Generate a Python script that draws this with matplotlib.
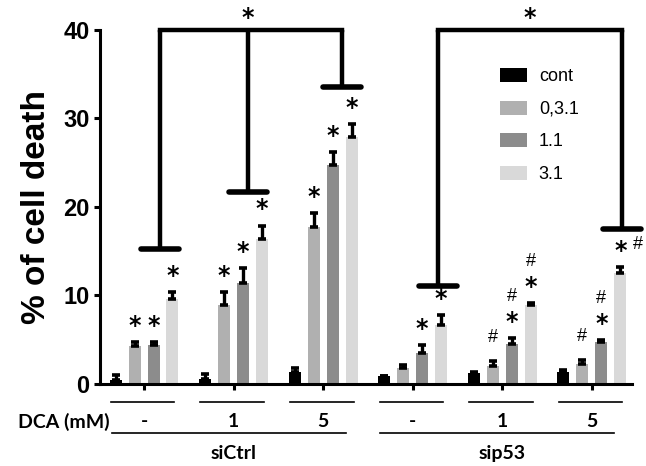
import matplotlib.pyplot as plt
import numpy as np
from matplotlib.patches import Patch

# data (% of cell death, mean and upper error)
dca_labels = ['-', '1', '5', '-', '1', '5']
cell_labels = ['siCtrl', 'sip53']
series = ['cont', '0,3.1', '1.1', '3.1']
colors = ['#000000', '#b0b0b0', '#8c8c8c', '#d9d9d9']

cont = [0.5, 0.6, 1.4, 0.9, 1.2, 1.4]
d031 = [4.3, 8.9, 17.7, 1.8, 2.0, 2.3]
d11 = [4.4, 11.4, 24.7, 3.5, 4.5, 4.8]
d31 = [9.6, 16.4, 27.9, 6.7, 8.9, 12.5]

cont_err = [0.5, 0.5, 0.4, 0.0, 0.2, 0.2]
d031_err = [0.4, 1.5, 1.6, 0.3, 0.6, 0.4]
d11_err = [0.3, 1.7, 1.5, 0.9, 0.7, 0.2]
d31_err = [0.8, 1.5, 1.5, 1.1, 0.2, 0.7]

# significance marks: star flags and '#' placement
star_031 = [1, 1, 1, 0, 0, 0]
star_11 = [1, 1, 1, 1, 1, 1]
star_31 = [1, 1, 1, 1, 1, 1]
hash_031 = ['', '', '', '', 'solo', 'solo']
hash_11 = ['', '', '', '', 'top', 'top']
hash_31 = ['', '', '', '', 'top', 'right']

# bracket arms: x in group units, y where the cap sits
left_arm_x = [0.18, 1.16, 2.21]
left_arm_y = [15.3, 21.7, 33.6]
right_arm_x = [3.28, 5.34]
right_arm_y = [11.1, 17.5]
bracket_top = 40

values = [cont, d031, d11, d31]
errs = [cont_err, d031_err, d11_err, d31_err]
stars = [[0] * 6, star_031, star_11, star_31]
hashes = [[''] * 6, hash_031, hash_11, hash_31]

fig = plt.figure(figsize=(6.46, 4.66), dpi=100)
ax = fig.add_axes([0.155, 0.176, 0.8235, 0.7597])

x = np.arange(len(dca_labels))
step = 0.212
width = 0.134
star_kw = dict(ha='center', va='bottom', fontsize=17, fontweight='bold',
               family='DejaVu Sans', textcoords='offset points')
hash_kw = dict(ha='center', va='center', fontsize=13, family='Liberation Sans',
               textcoords='offset points')
for i in range(4):
    xi = x + (i - 1.5) * step
    ax.bar(xi, values[i], width, color=colors[i], zorder=2)
    ax.errorbar(xi, values[i], yerr=[np.zeros(6), errs[i]], fmt='none',
                ecolor='black', elinewidth=2.4, capsize=3.0, capthick=2.6, zorder=3)
    for j in range(6):
        tip = values[i][j] + errs[i][j]
        if stars[i][j]:
            ax.annotate('*', (xi[j], tip), xytext=(0, 3), **star_kw)
        h = hashes[i][j]
        if h == 'solo':
            ax.annotate('#', (xi[j], tip), xytext=(0, 17), **hash_kw)
        elif h == 'top':
            ax.annotate('#', (xi[j], tip), xytext=(0, 30), **hash_kw)
        elif h == 'right':
            ax.annotate('#', (xi[j], tip), xytext=(13, 16), **hash_kw)

# brackets
lw_b = 3.2
for arms_x, arms_y in [(left_arm_x, left_arm_y), (right_arm_x, right_arm_y)]:
    ax.plot([arms_x[0], arms_x[-1]], [bracket_top, bracket_top], color='black',
            lw=lw_b, clip_on=False, solid_capstyle='projecting', zorder=4)
    for ax_x, ax_y in zip(arms_x, arms_y):
        ax.plot([ax_x, ax_x], [bracket_top, ax_y], color='black', lw=lw_b,
                clip_on=False, solid_capstyle='butt', zorder=4)
        ax.plot([ax_x - 0.21, ax_x + 0.21], [ax_y, ax_y], color='black', lw=4,
                clip_on=False, solid_capstyle='round', zorder=4)
ax.text(left_arm_x[1], 41.3, '*', ha='center', va='center', fontsize=17,
        fontweight='bold', family='DejaVu Sans', clip_on=False)
ax.text((right_arm_x[0] + right_arm_x[1]) / 2, 41.3, '*', ha='center', va='center',
        fontsize=17, fontweight='bold', family='DejaVu Sans', clip_on=False)

ax.set_xlim(-0.49, 5.45)
ax.set_ylim(0, 40)
ax.set_yticks([0, 10, 20, 30, 40])
ax.set_xticks(x)
ax.set_xticklabels([])
for s in ['top', 'right']:
    ax.spines[s].set_visible(False)
for s in ['left', 'bottom']:
    ax.spines[s].set_linewidth(2.2)
ax.tick_params(axis='both', width=2.2, length=4, direction='out')
for lab in ax.get_yticklabels():
    lab.set_fontsize(17)
    lab.set_fontweight('bold')
    lab.set_family('Liberation Sans')
ax.set_ylabel('% of cell death', fontsize=24, fontweight='bold',
              family='Liberation Sans', labelpad=8)

# labels under the axis
trans = ax.get_xaxis_transform()
for j in range(6):
    ax.plot([x[j] - 0.37, x[j] + 0.34], [-0.051, -0.051], color='black', lw=1.2,
            transform=trans, clip_on=False)
    ax.text(x[j], -0.107, dca_labels[j], transform=trans, ha='center', va='center',
            fontsize=14, fontweight='bold', family='Lato')
ax.text(-0.38, -0.107, 'DCA (mM)', transform=trans, ha='right', va='center',
        fontsize=14, fontweight='bold', family='Lato')
for k in range(2):
    x0 = x[3 * k]
    ax.plot([x0 - 0.36, x0 + 2.25], [-0.138, -0.138], color='black', lw=1.2,
            transform=trans, clip_on=False)
    ax.text(x0 + 1, -0.195, cell_labels[k], transform=trans, ha='center', va='center',
            fontsize=14, fontweight='bold', family='Lato')

handles = [Patch(facecolor=c, edgecolor='none') for c in colors]
ax.legend(handles, series, loc='upper left', bbox_to_anchor=(0.76, 0.873),
          bbox_transform=fig.transFigure, frameon=False,
          prop={'family': 'Liberation Sans', 'size': 13},
          handlelength=1.5, handleheight=0.8, labelspacing=0.85, handletextpad=0.65,
          borderpad=0)

fig.savefig('out.png', dpi=100)
